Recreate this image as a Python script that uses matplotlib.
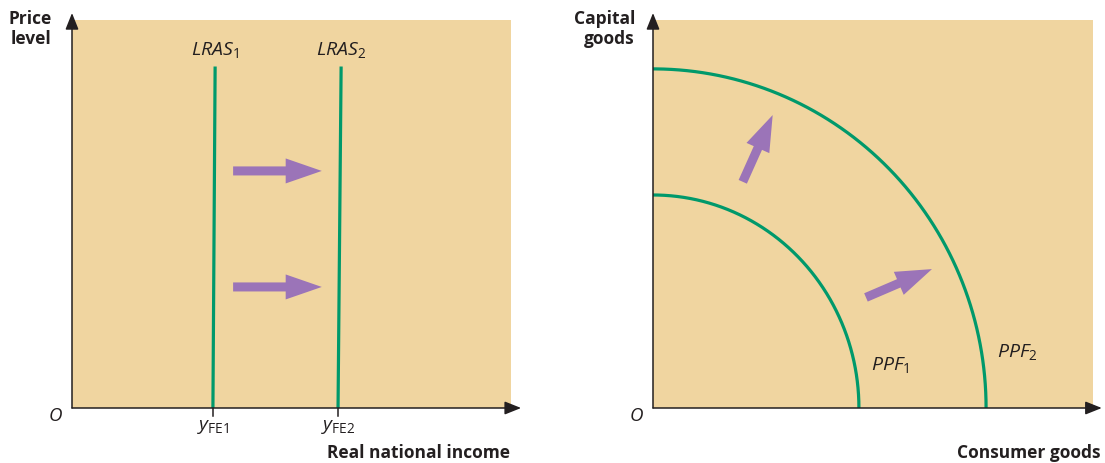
"""LRAS shift and PPF shift: two panel economics diagram."""

import matplotlib
matplotlib.use("Agg")

import matplotlib.pyplot as plt
import numpy as np
from matplotlib.patches import FancyArrowPatch

plt.rcParams["font.family"] = ["Open Sans", "DejaVu Sans"]
plt.rcParams["mathtext.fontset"] = "custom"
plt.rcParams["mathtext.it"] = "Open Sans:italic"
plt.rcParams["mathtext.rm"] = "Open Sans"
plt.rcParams["mathtext.bf"] = "Open Sans:bold"

# ── 数据 ──────────────────────────────────────────
lras_labels = [r"$\mathit{LRAS}_{\mathrm{1}}$", r"$\mathit{LRAS}_{\mathrm{2}}$"]
lras_tick_labels = [r"$\mathit{y}_{\mathrm{FE1}}$", r"$\mathit{y}_{\mathrm{FE2}}$"]
lras_x_bottom = [32.1, 60.6]
lras_x_top = [32.6, 61.3]
lras_top = 87.6
shift_arrow_y = [61.1, 31.2]
shift_arrow_x = [36.7, 56.9]

ppf_labels = [r"$\mathit{PPF}_{\mathrm{1}}$", r"$\mathit{PPF}_{\mathrm{2}}$"]
ppf_x_intercepts = [46.8, 75.7]
ppf_y_intercepts = [54.9, 87.4]
ppf_label_pos = [(53.9, 9.8), (82.7, 13.1)]
growth_tails = [(20.4, 58.3), (48.4, 28.5)]
growth_tips = [(27.2, 75.5), (63.4, 35.8)]

BG = "#F0D5A0"
GREEN = "#00996B"
PURPLE = "#9B74B8"
INK = "#231F20"


def axis_arrow(ax, start, end):
    ax.add_patch(FancyArrowPatch(
        start, end, arrowstyle="-|>,head_length=1.0,head_width=0.4",
        mutation_scale=10, color=INK, lw=1.1, shrinkA=0, shrinkB=0,
        clip_on=False, zorder=5))


def fat_arrow(ax, start, end):
    ax.add_patch(FancyArrowPatch(
        start, end,
        arrowstyle="simple,head_length=26,head_width=18,tail_width=6.5",
        mutation_scale=1, color=PURPLE, lw=0, shrinkA=0, shrinkB=0,
        zorder=4))


fig = plt.figure(figsize=(11.05, 4.63), dpi=100)
ax1 = fig.add_axes([72 / 1105, 55 / 463, 439 / 1105, 388 / 463])
ax2 = fig.add_axes([653 / 1105, 55 / 463, 440 / 1105, 388 / 463])

for ax in (ax1, ax2):
    ax.set_facecolor(BG)
    ax.set_xlim(0, 100)
    ax.set_ylim(0, 100)
    ax.set_xticks([])
    ax.set_yticks([])
    for sp in ax.spines.values():
        sp.set_visible(False)
    ax.text(-3.8, -2.1, "O", style="italic", fontsize=13.5, color=INK,
            ha="center", va="center", clip_on=False)

# ── 左图：LRAS ──
axis_arrow(ax1, (0, 0), (0, 101.8))
axis_arrow(ax1, (0, 0), (102.3, 0))
for xb, xt, lab, tick in zip(lras_x_bottom, lras_x_top, lras_labels, lras_tick_labels):
    ax1.plot([xb, xt], [0, lras_top], color=GREEN, lw=2.3, zorder=3)
    ax1.plot([xb, xb], [0, -2.1], color=INK, lw=1.1, clip_on=False)
    ax1.text(xt, 91.0, lab, fontsize=14, color=INK, ha="center", va="baseline")
    ax1.text(xb, -5.7, tick, fontsize=14, color=INK, ha="center", va="baseline",
             clip_on=False)
for y in shift_arrow_y:
    fat_arrow(ax1, (shift_arrow_x[0], y), (shift_arrow_x[1], y))

ax1.text(-4.6, 102.5, "Price\nlevel", fontsize=12.5, fontweight="bold", color=INK,
         ha="right", va="top", linespacing=1.15, clip_on=False)
ax1.text(99.8, -12.9, "Real national income", fontsize=12.5, fontweight="bold",
         color=INK, ha="right", va="baseline", clip_on=False)

# ── 右图：PPF ──
axis_arrow(ax2, (0, 0), (0, 101.8))
axis_arrow(ax2, (0, 0), (102.0, 0))
t = np.linspace(0, np.pi / 2, 200)
for a, b, lab, (lx, ly) in zip(ppf_x_intercepts, ppf_y_intercepts, ppf_labels, ppf_label_pos):
    ax2.plot(a * np.cos(t), b * np.sin(t), color=GREEN, lw=2.3, zorder=3)
    ax2.text(lx, ly, lab, fontsize=14, color=INK, ha="center", va="baseline")
for tail, tip in zip(growth_tails, growth_tips):
    fat_arrow(ax2, tail, tip)

ax2.text(-4.1, 102.5, "Capital\ngoods", fontsize=12.5, fontweight="bold", color=INK,
         ha="right", va="top", linespacing=1.15, clip_on=False)
ax2.text(101.6, -12.9, "Consumer goods", fontsize=12.5, fontweight="bold",
         color=INK, ha="right", va="baseline", clip_on=False)

fig.savefig("out.png", dpi=100)
